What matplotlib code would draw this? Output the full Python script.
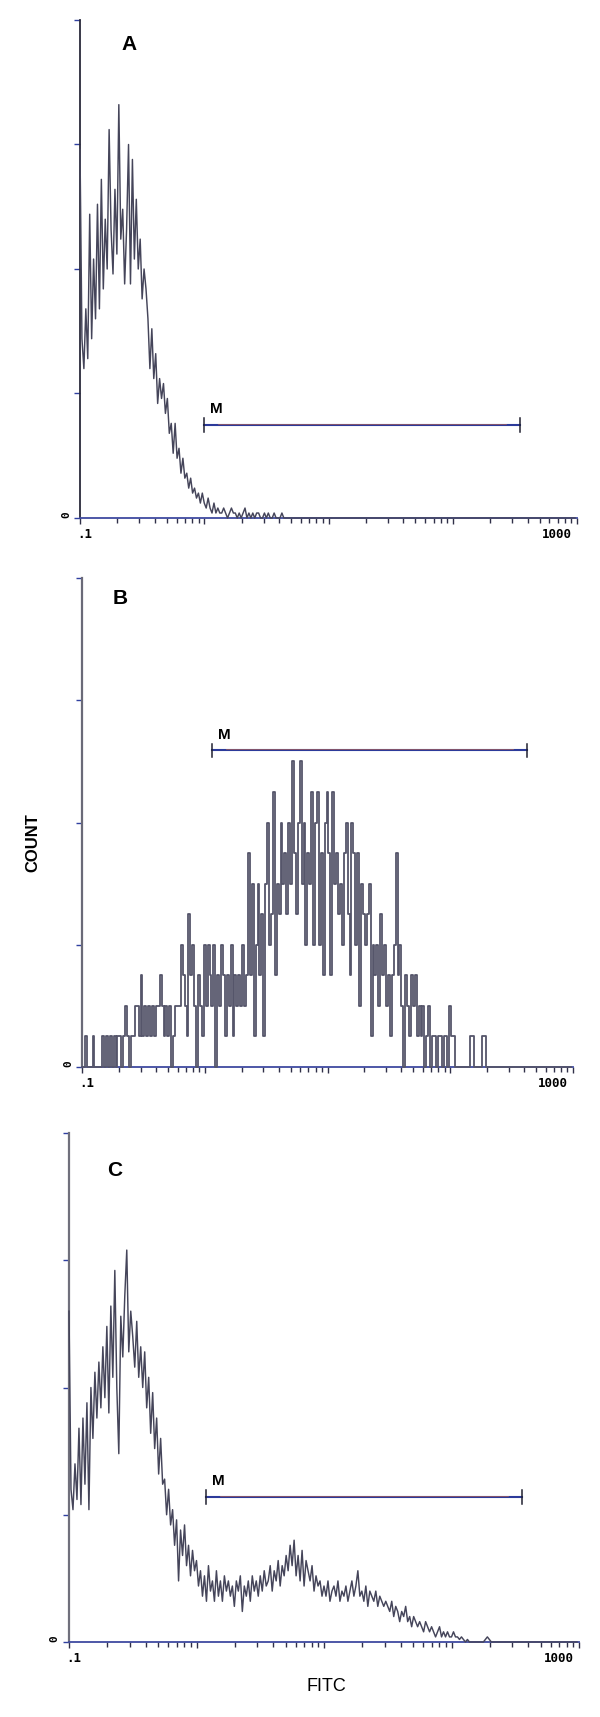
import numpy as np
import matplotlib
matplotlib.use("Agg")
import matplotlib.pyplot as plt

# ---------------- data (256 log channels over 0.1 .. 1000) ----------------
n_channels = 256
fitc_channels = np.logspace(-1, 3, n_channels, endpoint=False)

counts_A = (
    [74, 36, 30, 42, 32, 61, 36, 52, 40, 63, 42, 68, 46, 60, 50, 78]
    + [58, 49, 66, 53, 83, 56, 62, 47, 58, 75, 47, 72, 52, 64, 50, 56]
    + [44, 50, 46, 40, 30, 38, 28, 33, 23, 28, 24, 27, 21, 24, 17, 19]
    + [13, 19, 12, 14, 9, 12, 8, 9, 6, 8, 5, 6, 4, 5, 3, 5]
    + [3, 2, 4, 2, 1, 3, 1, 2, 1, 1, 2, 1, 0, 1, 2, 1]
    + [1, 0, 1, 0, 1, 2, 0, 1, 0, 1, 0, 1, 1, 0, 0, 1]
    + [0, 1, 0, 0, 1, 0, 0, 0, 1, 0, 0, 0, 0, 0, 0, 0]
    + [0] * 144
)

counts_B = (
    [0, 0, 1, 0, 0, 0, 1, 0, 0, 0, 0, 1, 0, 1, 0, 1]
    + [0, 1, 0, 1, 1, 0, 1, 2, 1, 0, 1, 1, 2, 2, 1, 3]
    + [1, 2, 1, 2, 1, 2, 1, 2, 2, 3, 2, 1, 2, 1, 2, 0]
    + [1, 2, 2, 2, 4, 3, 2, 1, 5, 3, 4, 2, 0, 3, 2, 1]
    + [4, 2, 4, 3, 2, 4, 0, 3, 2, 4, 3, 1, 3, 2, 4, 1]
    + [3, 2, 3, 2, 4, 2, 3, 7, 3, 6, 1, 4, 6, 3, 5, 1]
    + [6, 8, 4, 5, 9, 3, 6, 5, 8, 6, 7, 5, 8, 6, 10, 7]
    + [5, 8, 10, 6, 8, 4, 7, 6, 9, 4, 8, 9, 4, 7, 3, 8]
    + [9, 7, 3, 9, 6, 7, 5, 6, 4, 7, 8, 5, 3, 8, 7, 4]
    + [7, 2, 6, 5, 4, 5, 6, 1, 4, 3, 4, 2, 5, 3, 4, 2]
    + [3, 1, 3, 4, 7, 3, 4, 2, 0, 3, 2, 1, 3, 2, 3, 1]
    + [2, 1, 2, 0, 1, 2, 0, 1, 1, 0, 1, 1, 0, 1, 1, 0]
    + [2, 1, 1, 0, 0, 0, 0, 0, 0, 0, 0, 1, 1, 0, 0, 0]
    + [0, 1, 1, 0, 0, 0, 0, 0, 0, 0, 0, 0, 0, 0, 0, 0]
    + [0] * 32
)

counts_C = (
    [65, 30, 26, 35, 28, 42, 27, 44, 31, 47, 26, 50, 40, 53, 44, 55]
    + [46, 58, 48, 62, 45, 66, 52, 73, 50, 37, 64, 56, 68, 77, 57, 65]
    + [60, 54, 63, 52, 58, 50, 57, 46, 52, 41, 49, 38, 44, 33, 40, 31]
    + [32, 25, 30, 23, 26, 19, 24, 12, 22, 17, 23, 15, 19, 13, 18, 14]
    + [16, 11, 14, 9, 13, 8, 15, 10, 12, 8, 14, 9, 12, 8, 13, 10]
    + [12, 9, 11, 7, 12, 10, 13, 6, 11, 9, 12, 8, 13, 10, 12, 9]
    + [13, 10, 14, 11, 12, 15, 10, 14, 12, 16, 11, 15, 13, 17, 14, 19]
    + [15, 20, 13, 17, 12, 18, 11, 16, 14, 12, 15, 10, 13, 11, 12, 9]
    + [11, 9, 12, 8, 10, 11, 9, 12, 8, 10, 9, 11, 8, 10, 12, 9]
    + [11, 14, 9, 10, 8, 11, 7, 10, 9, 8, 10, 7, 9, 8, 7, 8]
    + [7, 6, 8, 5, 7, 6, 4, 6, 5, 7, 4, 5, 3, 5, 4, 3]
    + [4, 3, 2, 4, 3, 2, 3, 2, 1, 2, 3, 1, 2, 1, 2, 1]
    + [1, 2, 1, 1, 0.5, 1, 0.5, 0, 0.5, 0, 0, 0, 0, 0, 0, 0]
    + [0, 0.5, 1, 0.5, 0, 0, 0, 0, 0, 0, 0, 0, 0, 0, 0, 0]
    + [0] * 32
)

panel_labels = ["A", "B", "C"]
y_max = [100, 16, 100]
marker_range = [(1.0, 350.0), (1.15, 420.0), (1.18, 360.0)]
marker_level = [18.7, 10.36, 28.5]
x_tick_labels = [".1", "1000"]

# ---------------- layout ----------------
W, H = 600, 1717
fig = plt.figure(figsize=(W / 100, H / 100), dpi=100)
fig.patch.set_facecolor("white")

def px_axes(left, right, top, bottom):
    return [left / W, 1 - bottom / H, (right - left) / W, (bottom - top) / H]

axes_px = [(80, 577, 20, 518), (82, 573, 578, 1067), (69, 579, 1133, 1642)]
letter_px = [(129, 44), (120, 598), (115, 1170)]
spine_col = ["#2a2a3a", "#6a6a78", "#70707c"]

all_counts = [counts_A, counts_B, counts_C]
mono = ["DejaVu Sans Mono"]

for i, (ap, counts) in enumerate(zip(axes_px, all_counts)):
    ax = fig.add_axes(px_axes(*ap))
    ax.set_xscale("log")
    ax.set_xlim(0.1, 1000)
    ax.set_ylim(0, y_max[i])
    y = np.asarray(counts, dtype=float)
    if i == 1:
        ax.plot(fitc_channels, y, color="#55556a", lw=1.3, drawstyle="steps-mid",
                clip_on=False, zorder=3)
    else:
        ax.plot(fitc_channels, y, color="#45455a", lw=1.05, clip_on=False, zorder=3)

    for s in ["top", "right"]:
        ax.spines[s].set_visible(False)
    ax.spines["left"].set_color(spine_col[i])
    ax.spines["left"].set_linewidth(1.6 if i else 1.3)
    ax.spines["bottom"].set_color("#3f4aa0")
    ax.spines["bottom"].set_linewidth(1.3)

    ax.set_yticks(np.linspace(0, y_max[i], 5))
    ax.set_yticklabels([])
    ax.tick_params(axis="y", direction="out", length=4, width=1, color="#3040a0")
    ax.tick_params(axis="x", which="major", direction="out", length=4, width=1,
                   color="#303048", labelbottom=False)
    ax.tick_params(axis="x", which="minor", direction="out", length=3.5, width=1,
                   color="#303048", labelbottom=False)

    ax.text(-0.006, -0.02, x_tick_labels[0], transform=ax.transAxes, ha="left",
            va="top", fontsize=9, fontweight="bold", family=mono)
    ax.text(0.99, -0.02, x_tick_labels[1], transform=ax.transAxes, ha="right",
            va="top", fontsize=9, fontweight="bold", family=mono)
    ax.text(-0.018, 0.0, "0", transform=ax.transAxes, ha="right", va="bottom",
            rotation=90, fontsize=8, fontweight="bold", family=mono)

    # marker bar M
    x0, x1 = marker_range[i]
    lv = marker_level[i]
    off = y_max[i] * 0.002
    ax.plot([x0, x1], [lv, lv], color="#2c3a9a", lw=1.5, zorder=4)
    ax.plot([x0 * 1.3, x1 / 1.3], [lv + off, lv + off], color="#c86a4a", lw=0.5,
            alpha=0.8, zorder=5)
    ax.plot([x0, x0], [lv - y_max[i] * 0.014, lv + y_max[i] * 0.014],
            color="#202030", lw=1.1, zorder=6)
    ax.plot([x1, x1], [lv - y_max[i] * 0.014, lv + y_max[i] * 0.014],
            color="#202030", lw=1.1, zorder=6)
    ax.text(x0 * 1.12, lv + y_max[i] * 0.018, "M", fontsize=11, fontweight="bold",
            ha="left", va="bottom", family=["Liberation Sans"])

    lx, ly = letter_px[i]
    fig.text(lx / W, 1 - ly / H, panel_labels[i], fontsize=15, fontweight="bold",
             ha="center", va="center", family=["Liberation Sans"])

fig.text(33 / W, 1 - 843 / H, "COUNT", rotation=90, fontsize=12, fontweight="bold",
         ha="center", va="center", family=["Liberation Sans"])
fig.text(326 / W, 1 - 1686 / H, "FITC", fontsize=13,
         ha="center", va="center", family=["Liberation Sans"])

fig.savefig("out.png", dpi=100, facecolor="white")
